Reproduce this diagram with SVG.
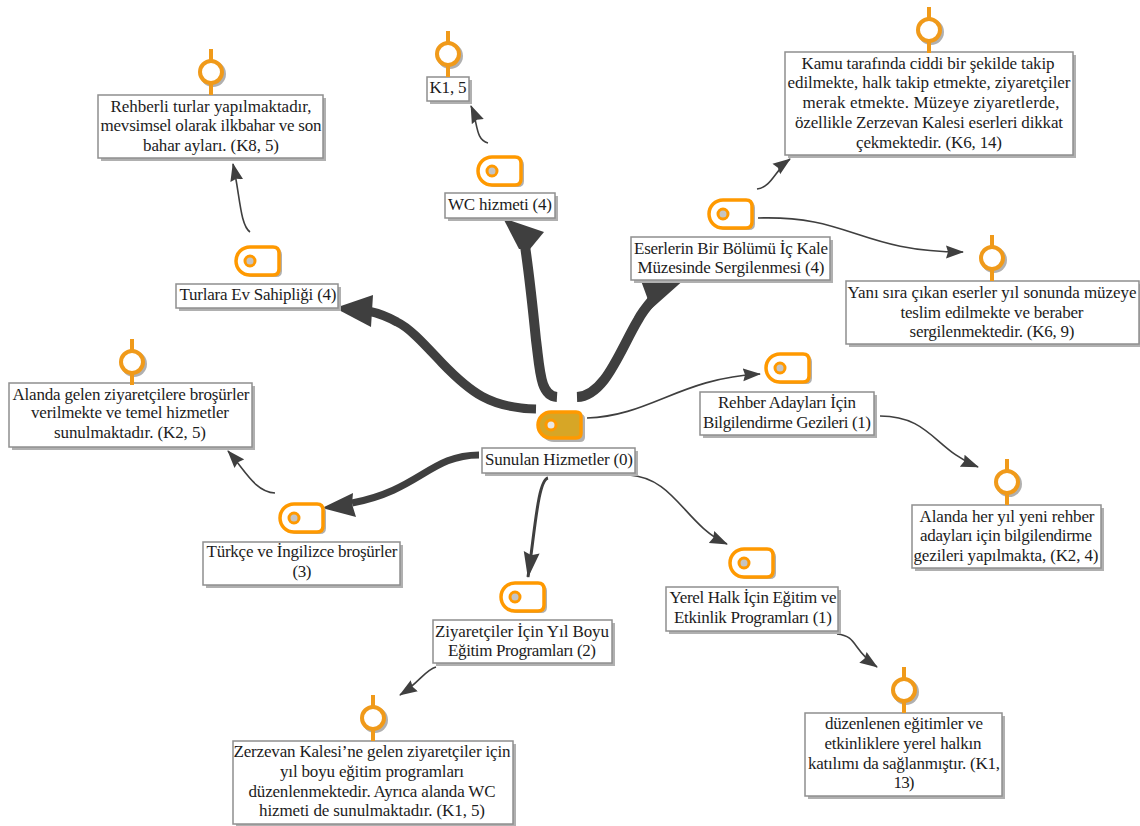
<svg xmlns="http://www.w3.org/2000/svg" width="1140" height="826" viewBox="0 0 1140 826">
<style>
text{font-family:"Liberation Serif","Times New Roman",serif;font-size:17px;fill:#1c1c1c;text-anchor:middle}
.box{fill:#fff;stroke:#8f8f8f;stroke-width:1.5}
.sh{fill:#b0b0b0}
.c{fill:none;stroke:#3f3f3f;stroke-linecap:butt}
.h{fill:#3f3f3f}
.pl{stroke:#f09a1a;stroke-width:4;fill:none}
.p{fill:#fff;stroke:#f09a1a;stroke-width:4}
.ps{fill:#b0b0b0}
</style>
<defs>
<marker id="aS" markerUnits="userSpaceOnUse" viewBox="0 0 18 14" markerWidth="18" markerHeight="14" refX="17" refY="7" orient="auto"><path d="M0 0.5L18 7L0 13.5L2 7Z" fill="#3f3f3f"/></marker>
<marker id="aM" markerUnits="userSpaceOnUse" viewBox="0 0 26 18" markerWidth="26" markerHeight="18" refX="25" refY="9" orient="auto"><path d="M0 1L26 9L0 17L3 9Z" fill="#3f3f3f"/></marker>
<g id="tag"><path class="ps" d="M17 3H40Q46 3 46 9V25Q46 31 40 31H17A14 14 0 0 1 17 3Z"/><path d="M14 1H37Q43 1 43 7V23Q43 29 37 29H14A14 14 0 0 1 14 1Z" fill="#fff" stroke="#ff9900" stroke-width="3.5"/><circle cx="14" cy="15" r="5" fill="#c4c4c4" stroke="#ff9900" stroke-width="3"/></g>
<g id="pin"><circle class="ps" cx="2" cy="2" r="13"/><path class="pl" d="M0 -23V-11M0 11V23"/><circle class="p" r="11"/></g>
</defs>
<g id="connectors">
<path class="c" stroke-width="9" d="M536 409C490 408 470 392 442 363C425 345 410 328 397 322C390 318 382 314 368 311"/>
<path class="h" d="M335 308L373 295L372 311L371 327Z"/>
<path class="c" stroke-width="10" d="M557 397C540 396 540 370 536 340C533 310 530 280 525 246"/>
<path class="h" d="M503 218L544 232L530 249L519 249Z"/>
<path class="c" stroke-width="10" d="M577 397C605 396 620 350 638 320C642 312 648 305 654 298"/>
<path class="h" d="M640 278L686 278L650 310L647 297Z"/>
<path class="c" stroke-width="7" d="M479 455C430 455 420 490 352 503"/>
<path class="h" d="M322 508L353 493L352 504L356 517Z"/>
<path class="c" stroke-width="3" marker-end="url(#aM)" d="M548 478C538 480 535 530 528 577"/>
<path class="c" stroke-width="1.6" marker-end="url(#aS)" d="M587 418C650 416 680 378 760 374"/>
<path class="c" stroke-width="1.6" marker-end="url(#aS)" d="M629 475C675 478 685 525 727 544"/>
<path class="c" stroke-width="1.6" marker-end="url(#aS)" d="M250 232C240 225 240 195 233 164"/>
<path class="c" stroke-width="1.6" marker-end="url(#aS)" d="M488 143C475 140 478 122 471 106"/>
<path class="c" stroke-width="1.6" marker-end="url(#aS)" d="M757 189C772 187 775 170 790 159"/>
<path class="c" stroke-width="1.6" marker-end="url(#aS)" d="M758 218C850 215 860 252 963 252"/>
<path class="c" stroke-width="1.6" marker-end="url(#aS)" d="M880 416C930 416 935 450 978 467"/>
<path class="c" stroke-width="1.6" marker-end="url(#aS)" d="M837 634C858 636 852 650 877 667"/>
<path class="c" stroke-width="1.6" marker-end="url(#aS)" d="M436 667C425 670 420 682 400 695"/>
<path class="c" stroke-width="1.6" marker-end="url(#aS)" d="M275 493C255 492 245 470 228 451"/>
</g>
<g id="n0"><rect class="sh" x="485" y="451" width="153" height="25"/><rect class="box" x="482" y="448" width="153" height="25"/>
<path class="ps" d="M554 414H580Q585 414 585 419V437Q585 442 580 442H554A14 14 0 0 1 554 414Z"/><path d="M551 412H576Q581 412 581 417V433Q581 438 576 438H551A13 13 0 0 1 551 412Z" fill="#d7a626" stroke="#ff9900" stroke-width="3.5"/><circle cx="551" cy="425" r="5" fill="#e8e8e8" stroke="#ff9900" stroke-width="3"/>
<text x="559" y="465" textLength="148">Sunulan Hizmetler (0)</text></g>
<g id="n1"><rect class="sh" x="179" y="287" width="162" height="24"/><rect class="box" x="176" y="284" width="162" height="24"/><use href="#tag" x="236" y="246"/><text x="258" y="300" textLength="157">Turlara Ev Sahipliği (4)</text></g>
<g id="n1a"><rect class="sh" x="101" y="98" width="225" height="63"/><rect class="box" x="98" y="95" width="225" height="63"/><use href="#pin" x="211" y="72"/><text x="211" y="112" textLength="201">Rehberli turlar yapılmaktadır,</text><text x="211" y="131" textLength="221">mevsimsel olarak ilkbahar ve son</text><text x="211" y="151" textLength="136">bahar ayları. (K8, 5)</text></g>
<g id="n2"><rect class="sh" x="448" y="196" width="110" height="25"/><rect class="box" x="445" y="193" width="110" height="25"/><use href="#tag" x="478" y="156"/><text x="500" y="210" textLength="104">WC hizmeti (4)</text></g>
<g id="n2a"><rect class="sh" x="430" y="80" width="42" height="24"/><rect class="box" x="427" y="77" width="42" height="24"/><use href="#pin" x="448" y="54"/><text x="448" y="93" textLength="37">K1, 5</text></g>
<g id="n3"><rect class="sh" x="634" y="240" width="199" height="43"/><rect class="box" x="631" y="237" width="199" height="43"/><use href="#tag" x="709" y="199"/><text x="731" y="254" textLength="194">Eserlerin Bir Bölümü İç Kale</text><text x="731" y="273" textLength="187">Müzesinde Sergilenmesi (4)</text></g>
<g id="n3a"><rect class="sh" x="788" y="55" width="288" height="103"/><rect class="box" x="785" y="52" width="288" height="103"/><use href="#pin" x="929" y="30"/><text x="928" y="69" textLength="253">Kamu tarafında ciddi bir şekilde takip</text><text x="929" y="88" textLength="283">edilmekte, halk takip etmekte, ziyaretçiler</text><text x="931" y="108" textLength="257">merak etmekte. Müzeye ziyaretlerde,</text><text x="929" y="128" textLength="268">özellikle Zerzevan Kalesi eserleri dikkat</text><text x="929" y="148" textLength="146">çekmektedir. (K6, 14)</text></g>
<g id="n3b"><rect class="sh" x="849" y="284" width="291" height="63"/><rect class="box" x="846" y="281" width="293" height="63"/><use href="#pin" x="992" y="258"/><text x="992" y="298" textLength="289">Yanı sıra çıkan eserler yıl sonunda müzeye</text><text x="992" y="318" textLength="183">teslim edilmekte ve beraber</text><text x="992" y="337" textLength="165">sergilenmektedir. (K6, 9)</text></g>
<g id="n4"><rect class="sh" x="703" y="395" width="174" height="43"/><rect class="box" x="700" y="392" width="174" height="43"/><use href="#tag" x="766" y="353"/><text x="787" y="408" textLength="138">Rehber Adayları İçin</text><text x="787" y="428" textLength="168">Bilgilendirme Gezileri (1)</text></g>
<g id="n4a"><rect class="sh" x="915" y="508" width="189" height="63"/><rect class="box" x="912" y="505" width="189" height="63"/><use href="#pin" x="1007" y="482"/><text x="1007" y="522" textLength="175">Alanda her yıl yeni rehber</text><text x="1006" y="541" textLength="172">adayları için bilgilendirme</text><text x="1006" y="561" textLength="185">gezileri yapılmakta, (K2, 4)</text></g>
<g id="n5"><rect class="sh" x="669" y="590" width="172" height="44"/><rect class="box" x="666" y="587" width="172" height="44"/><use href="#tag" x="730" y="548"/><text x="753" y="603" textLength="167">Yerel Halk İçin Eğitim ve</text><text x="753" y="623" textLength="158">Etkinlik Programları (1)</text></g>
<g id="n5a"><rect class="sh" x="808" y="716" width="197" height="83"/><rect class="box" x="805" y="713" width="197" height="83"/><use href="#pin" x="904" y="690"/><text x="904" y="729" textLength="158">düzenlenen eğitimler ve</text><text x="903" y="749" textLength="157">etkinliklere yerel halkın</text><text x="904" y="769" textLength="192">katılımı da sağlanmıştır. (K1,</text><text x="904" y="788" textLength="21">13)</text></g>
<g id="n6"><rect class="sh" x="436" y="623" width="179" height="43"/><rect class="box" x="433" y="620" width="179" height="43"/><use href="#tag" x="501" y="582"/><text x="522" y="637" textLength="174">Ziyaretçiler İçin Yıl Boyu</text><text x="522" y="656" textLength="148">Eğitim Programları (2)</text></g>
<g id="n6a"><rect class="sh" x="236" y="744" width="280" height="82"/><rect class="box" x="233" y="741" width="280" height="83"/><use href="#pin" x="373" y="718"/><text x="372" y="757" textLength="277">Zerzevan Kalesi’ne gelen ziyaretçiler için</text><text x="372" y="777" textLength="184">yıl boyu eğitim programları</text><text x="372" y="797" textLength="247">düzenlenmektedir. Ayrıca alanda WC</text><text x="372" y="816" textLength="226">hizmeti de sunulmaktadır. (K1, 5)</text></g>
<g id="n7"><rect class="sh" x="206" y="545" width="197" height="43"/><rect class="box" x="203" y="542" width="197" height="43"/><use href="#tag" x="280" y="503"/><text x="302" y="557" textLength="191">Türkçe ve İngilizce broşürler</text><text x="302" y="577" textLength="19">(3)</text></g>
<g id="n7a"><rect class="sh" x="12" y="386" width="243" height="64"/><rect class="box" x="9" y="383" width="243" height="64"/><use href="#pin" x="132" y="362"/><text x="131" y="400" textLength="237">Alanda gelen ziyaretçilere broşürler</text><text x="130" y="418" textLength="198">verilmekte ve temel hizmetler</text><text x="130" y="438" textLength="152">sunulmaktadır. (K2, 5)</text></g>
</svg>
